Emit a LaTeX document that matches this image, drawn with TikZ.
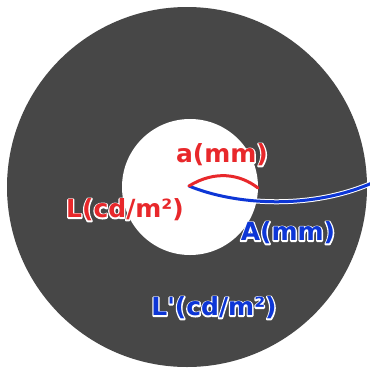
\documentclass[tikz,border=0pt]{standalone}
\usepackage{fontspec}
\usetikzlibrary{positioning}
\newfontfamily\lblfont{DejaVu Sans Bold}
\definecolor{lumDark}{HTML}{474747}
\definecolor{lumRed}{HTML}{E8282B}
\definecolor{lumBlue}{HTML}{0D36D6}
% white rim behind a label: one stroked copy, then the filled text
\newcommand{\rimtext}[1]{%
  \rlap{\special{pdf:literal direct 1 Tr 1 1 1 RG 2.6 w 1 j}#1\special{pdf:literal direct 0 Tr}}#1}
\tikzset{
  disc/.style={fill=#1, draw=none},
  redlbl/.style={text=lumRed, font=\lblfont\fontsize{25}{28}\selectfont, inner sep=0pt},
  bluelbl/.style={text=lumBlue, font=\lblfont\fontsize{25}{28}\selectfont, inner sep=0pt},
  halo/.style={draw=white, line width=5pt, line cap=round},
  redarc/.style={draw=lumRed, line width=3pt, line cap=round},
  bluearc/.style={draw=lumBlue, line width=3pt, line cap=round},
}

\begin{document}
\begin{tikzpicture}[x=1pt, y=-1pt]
\useasboundingbox (0,0) rectangle (370,368);

% ---- surround and test field
\node[disc=lumDark, circle, minimum size=360pt, inner sep=0pt] (SURR) at (187,187) {};
\node[disc=white, circle, minimum size=136pt, inner sep=0pt] (FIELD) at (190,187) {};

% ---- the two sizes
\coordinate (O)  at (189,186);
\coordinate (AE) at (258,188);
\coordinate (BE) at (372,183);
\begin{scope}
  \clip (0,0) rectangle (370,368);
  \draw[halo] (O) .. controls (235,205) and (310,210) .. (BE);
  \draw[bluearc] (O) .. controls (235,205) and (310,210) .. (BE);
\end{scope}
\draw[redarc] (O) .. controls (215,170) and (240,174) .. (AE);

% ---- labels
\node[redlbl]  (LA)  at (222,155) {\rimtext{a(mm)}};
\node[redlbl]  (LL)  at (125,210) {\rimtext{L(cd/m²)}};
\node[bluelbl] (LB)  at (288,233) {\rimtext{A(mm)}};
\node[bluelbl] (LLP) at (214,308) {\rimtext{L'(cd/m²)}};

\end{tikzpicture}
\end{document}
